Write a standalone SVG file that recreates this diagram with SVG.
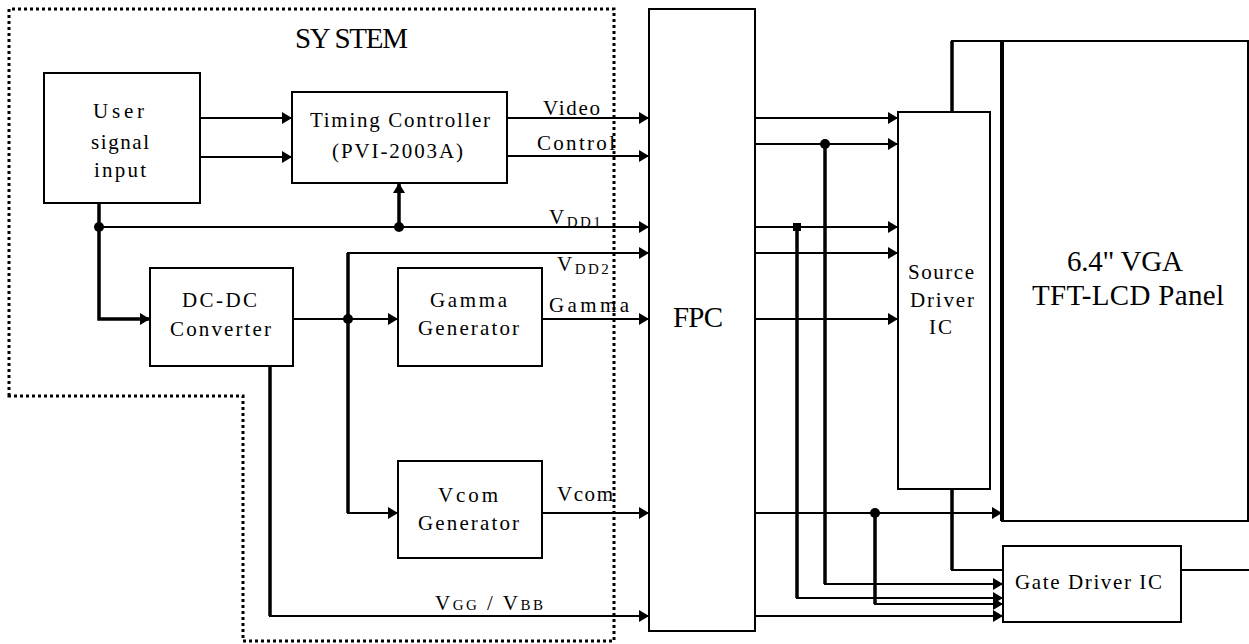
<svg xmlns="http://www.w3.org/2000/svg" width="1249" height="644" viewBox="0 0 1249 644">
<style>
.box{fill:#fff;stroke:#000;stroke-width:2}
.ln{fill:none;stroke:#000;stroke-width:2}
.th{fill:none;stroke:#000;stroke-width:3.5}
.dot{fill:none;stroke:#000;stroke-width:3;stroke-dasharray:3 3}
text{font-family:"Liberation Serif","Times New Roman",serif;fill:#000;font-size:21px}
.big{font-size:29px}
.sub{font-size:15px}
.sp{letter-spacing:2.5px}
</style>
<defs>
<marker id="ah" markerUnits="userSpaceOnUse" markerWidth="10" markerHeight="12" refX="10" refY="6" orient="auto">
<path d="M0,0 L10,6 L0,12 z" fill="#000"/>
</marker>
</defs>
<rect width="1249" height="644" fill="#fff"/>
<g id="system-boundary">
<path class="dot" d="M9,396 V9 H614 V641 H243 V396 Z"/>
<text class="big" x="295" y="48" textLength="113" lengthAdjust="spacing">SY STEM</text>
</g>
<g id="user-signal-input">
<rect class="box" x="44" y="73" width="156" height="130"/>
<text x="93" y="118" textLength="51" lengthAdjust="spacing">User</text>
<text x="91" y="149" textLength="58" lengthAdjust="spacing">signal</text>
<text x="94" y="177" textLength="52" lengthAdjust="spacing">input</text>
</g>
<g id="timing-controller">
<rect class="box" x="292" y="92" width="215" height="91"/>
<text x="310" y="127" textLength="180" lengthAdjust="spacing">Timing Controller</text>
<text x="332" y="158" textLength="131" lengthAdjust="spacing">(PVI-2003A)</text>
</g>
<g id="dc-dc-converter">
<rect class="box" x="150" y="268" width="143" height="98"/>
<text x="182" y="307" textLength="75" lengthAdjust="spacing">DC-DC</text>
<text x="170" y="336" textLength="101" lengthAdjust="spacing">Converter</text>
</g>
<g id="gamma-generator">
<rect class="box" x="398" y="268" width="144" height="98"/>
<text x="430" y="307" textLength="77" lengthAdjust="spacing">Gamma</text>
<text x="418" y="335" textLength="101" lengthAdjust="spacing">Generator</text>
</g>
<g id="vcom-generator">
<rect class="box" x="398" y="461" width="144" height="97"/>
<text x="438" y="502" textLength="60" lengthAdjust="spacing">Vcom</text>
<text x="418" y="530" textLength="101" lengthAdjust="spacing">Generator</text>
</g>
<g id="fpc">
<rect class="box" x="649" y="9" width="106" height="622"/>
<text class="big" x="673" y="327" textLength="50" lengthAdjust="spacing">FPC</text>
</g>
<g id="source-driver-ic">
<rect class="box" x="898" y="112" width="92" height="377"/>
<text x="908" y="279" textLength="66" lengthAdjust="spacing">Source</text>
<text x="910" y="307" textLength="64" lengthAdjust="spacing">Driver</text>
<text x="929" y="334" textLength="23" lengthAdjust="spacing">IC</text>
</g>
<g id="tft-lcd-panel">
<rect class="box" x="1002" y="41" width="246" height="480"/>
<line x1="1002" y1="41" x2="1002" y2="521" stroke="#000" stroke-width="4"/>
<text class="big" x="1067" y="271" textLength="116" lengthAdjust="spacing">6.4" VGA</text>
<text class="big" x="1032" y="305" textLength="192" lengthAdjust="spacing">TFT-LCD Panel</text>
</g>
<g id="gate-driver-ic">
<rect class="box" x="1003" y="546" width="178" height="76"/>
<text x="1015" y="589" textLength="147" lengthAdjust="spacing">Gate Driver IC</text>
</g>
<g id="connectors">
<path class="ln" d="M200,118 H292" marker-end="url(#ah)"/>
<path class="ln" d="M200,157 H292" marker-end="url(#ah)"/>
<path class="ln" d="M507,118 H649" marker-end="url(#ah)"/>
<path class="ln" d="M507,156 H649" marker-end="url(#ah)"/>
<path class="ln" d="M99,227 H649" marker-end="url(#ah)"/>
<path class="th" d="M99,203 V319 H150" marker-end="url(#ah)"/>
<path class="th" d="M399,227 V183" marker-end="url(#ah)"/>
<path class="th" d="M348,513 V253"/>
<path class="ln" d="M347,253 H649" marker-end="url(#ah)"/>
<path class="ln" d="M347,513 H398" marker-end="url(#ah)"/>
<path class="ln" d="M293,319 H398" marker-end="url(#ah)"/>
<path class="ln" d="M542,319 H649" marker-end="url(#ah)"/>
<path class="ln" d="M542,513 H649" marker-end="url(#ah)"/>
<path class="th" d="M270,366 V616"/>
<path class="ln" d="M269,616 H649" marker-end="url(#ah)"/>
<path class="ln" d="M755,118 H898" marker-end="url(#ah)"/>
<path class="ln" d="M755,144 H898" marker-end="url(#ah)"/>
<path class="ln" d="M755,227 H898" marker-end="url(#ah)"/>
<path class="ln" d="M755,253 H898" marker-end="url(#ah)"/>
<path class="ln" d="M755,319 H898" marker-end="url(#ah)"/>
<path class="ln" d="M755,513 H1002" marker-end="url(#ah)"/>
<path class="th" d="M825,144 V584"/>
<path class="ln" d="M824,584 H1003" marker-end="url(#ah)"/>
<path class="th" d="M797,227 V598"/>
<path class="ln" d="M796,598 H1003" marker-end="url(#ah)"/>
<path class="th" d="M875,513 V604"/>
<path class="ln" d="M874,604 H1003" marker-end="url(#ah)"/>
<path class="ln" d="M755,616 H1003" marker-end="url(#ah)"/>
<path class="th" d="M952,112 V41"/>
<path class="ln" d="M951,41 H1249"/>
<path class="th" d="M952,489 V570"/>
<path class="ln" d="M951,570 H1003"/>
<path class="ln" d="M1181,570 H1249"/>
<circle cx="99" cy="227" r="5"/>
<circle cx="399" cy="227" r="5"/>
<circle cx="348" cy="319" r="5"/>
<circle cx="825" cy="144" r="5"/>
<circle cx="875" cy="513" r="5"/>
<rect x="793" y="223" width="8" height="8"/>
<text x="543" y="115" textLength="57" lengthAdjust="spacing">Video</text>
<text x="537" y="150" textLength="78" lengthAdjust="spacing">Control</text>
<text class="sp" x="549" y="224">V<tspan class="sub" dy="3">DD1</tspan></text>
<text class="sp" x="557" y="271">V<tspan class="sub" dy="3">DD2</tspan></text>
<text x="549" y="312" textLength="80" lengthAdjust="spacing">Gamma</text>
<text x="557" y="501" textLength="56" lengthAdjust="spacing">Vcom</text>
<text class="sp" x="435" y="610">V<tspan class="sub">GG</tspan> / V<tspan class="sub">BB</tspan></text>
</g>
</svg>
